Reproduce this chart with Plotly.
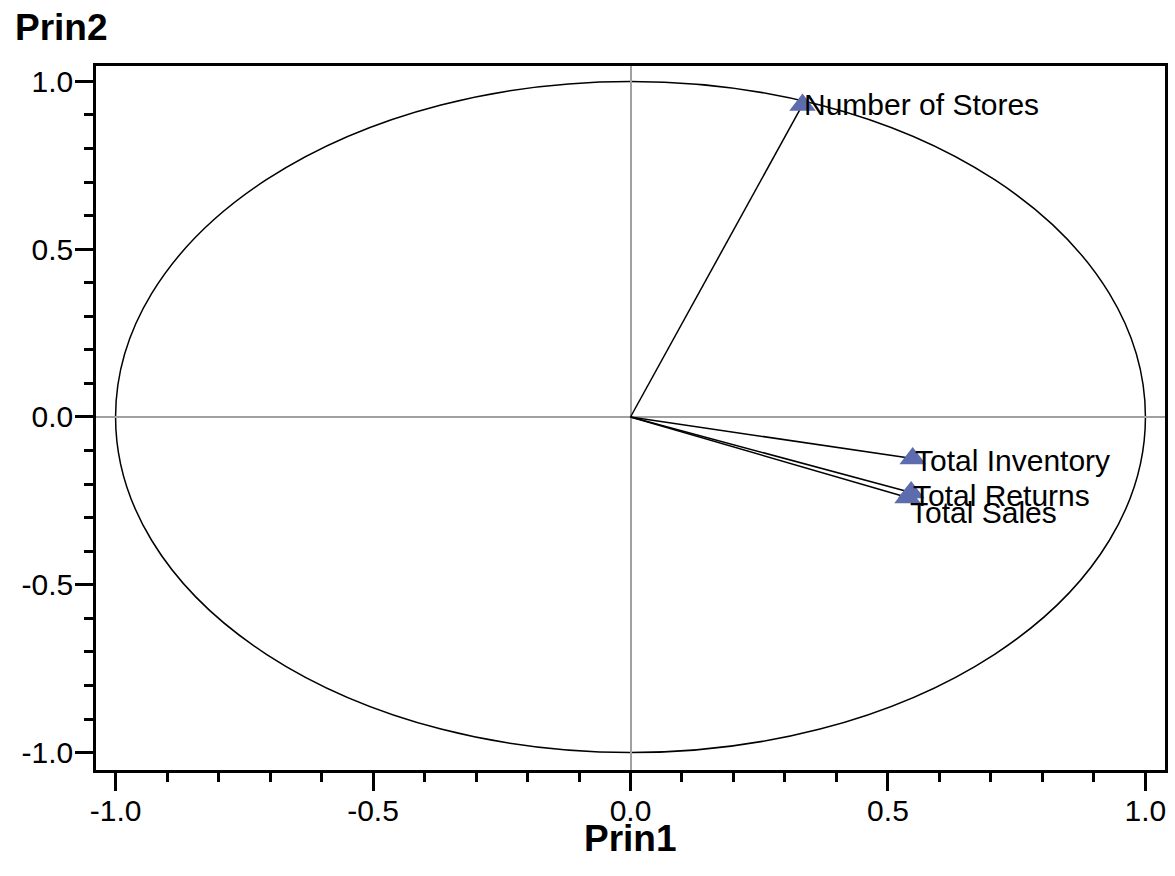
import plotly.graph_objects as go

# Component loadings of each variable on the first two principal components
variables = ["Number of Stores", "Total Inventory", "Total Returns", "Total Sales"]
prin1 = [0.334, 0.548, 0.545, 0.538]
prin2 = [0.930, -0.124, -0.225, -0.240]

# Axis tick values and labels
tick_vals = [-1.0, -0.5, 0.0, 0.5, 1.0]
tick_text = ["-1.0", "-0.5", "0.0", "0.5", "1.0"]

# Vertical nudges (px) applied to the variable labels to keep them legible
label_yshift = [0, -2, -3, -15]

FONT = "Liberation Sans, Arial, sans-serif"
MARKER_BLUE = "#5d6cae"

fig = go.Figure()

# Vectors from the origin to each loading
vx, vy = [], []
for x, y in zip(prin1, prin2):
    vx += [0, x, None]
    vy += [0, y, None]
fig.add_trace(go.Scatter(
    x=vx, y=vy, mode="lines",
    line=dict(color="black", width=1.5),
    hoverinfo="skip", showlegend=False,
))

# Loading markers
fig.add_trace(go.Scatter(
    x=prin1, y=prin2, mode="markers",
    marker=dict(symbol="triangle-up", size=23, color=MARKER_BLUE,
                line=dict(width=0)),
    text=variables, hoverinfo="text", showlegend=False,
))

# Unit circle
fig.add_shape(type="circle", xref="x", yref="y", x0=-1, y0=-1, x1=1, y1=1,
              line=dict(color="black", width=1.5), layer="below")

# Variable labels
for name, x, y, dy in zip(variables, prin1, prin2, label_yshift):
    fig.add_annotation(
        x=x, y=y, text=name, showarrow=False,
        xanchor="left", yanchor="middle", xshift=0, yshift=dy,
        font=dict(family=FONT, size=30, color="black"),
    )

# Axis titles: Prin2 sits horizontally above the vertical axis
fig.add_annotation(
    xref="paper", yref="paper", x=-0.078, y=1.0,
    text="<b>Prin2</b>", showarrow=False,
    xanchor="left", yanchor="bottom", yshift=16,
    font=dict(family=FONT, size=37, color="black"),
)
fig.add_annotation(
    xref="paper", yref="paper", x=0.5, y=0.0,
    text="<b>Prin1</b>", showarrow=False,
    xanchor="center", yanchor="middle", yshift=-68,
    font=dict(family=FONT, size=37, color="black"),
)

axis_common = dict(
    showgrid=False,
    zeroline=True, zerolinecolor="#a0a0a0", zerolinewidth=2,
    showline=True, linecolor="black", linewidth=2.5, mirror=True,
    ticks="outside", ticklen=18, tickwidth=2.5, tickcolor="black",
    tickmode="array", tickvals=tick_vals, ticktext=tick_text,
    tickfont=dict(family=FONT, size=30, color="black"),
    minor=dict(tickmode="linear", tick0=0, dtick=0.1, ticks="outside",
               ticklen=9, tickwidth=2.5, tickcolor="black", showgrid=False),
)

fig.update_xaxes(range=[-1.038, 1.038], ticklabelstandoff=-6, **axis_common)
fig.update_yaxes(range=[-1.052, 1.046], ticklabelstandoff=-4, **axis_common)

fig.update_layout(
    width=1175, height=876,
    margin=dict(l=96, r=7, t=66, b=106),
    paper_bgcolor="white", plot_bgcolor="white",
    font=dict(family=FONT, color="black"),
    showlegend=False,
)

fig.write_html("out.html")
